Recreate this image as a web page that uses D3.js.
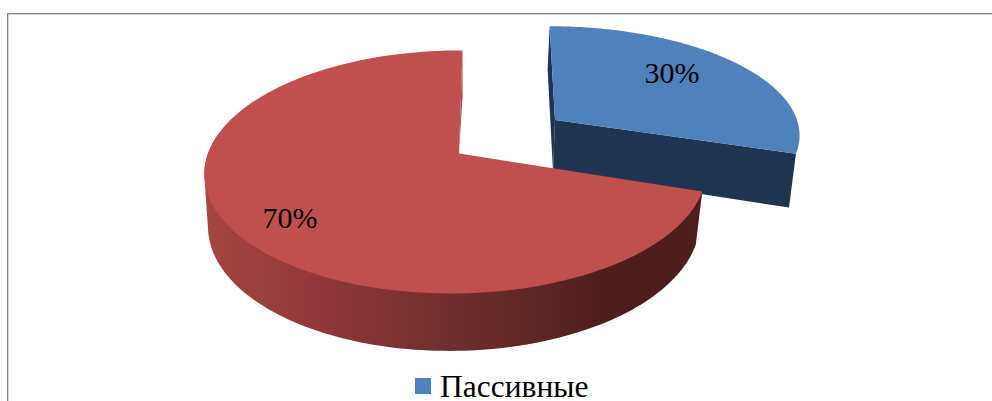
<!DOCTYPE html>
<html><head><meta charset="utf-8">
<script src="https://cdnjs.cloudflare.com/ajax/libs/d3/7.8.5/d3.min.js"></script>
<style>html,body{margin:0;padding:0;background:#fff;overflow:hidden}svg{display:block}text{font-family:"Liberation Serif",serif;fill:#000}</style>
</head><body><svg id="c" width="992" height="401"></svg>
<script>
const categories = ["Пассивные", "Активные"];
const values = [30, 70];
const percentLabels = ["30%", "70%"];
const legendEntries = ["Пассивные"];
const colors = {top:["#4f81bd","#c0504d"], face:["#1f3450","#a24744"]};

// projection parameters of the tilted pie (layout only)
const views = [
 {top:{x:555,y:120,A:242,B:105,k:.12,m:0,sh:6}, bot:{x:553,y:171,A:237,B:114,k:.12,m:0,sh:6}},
 {top:{x:459,y:153.5,A:248,B:118.7,k:.152,m:-.012,sh:-4}, bot:{x:459,y:205,A:243,B:124,k:.15,m:-.018,sh:-4}}
];
const labelPos = [[672,73],[290,218]];

const svg = d3.select("#c");
const defs = svg.append("defs");
const grad = defs.append("linearGradient").attr("id","wall").attr("gradientUnits","userSpaceOnUse")
  .attr("x1",205).attr("x2",700).attr("y1",0).attr("y2",0);
[[0,"#a64542"],[.2,"#93393a"],[.5,"#6f2e2b"],[.85,"#4a1c1a"],[1,"#4f1f1d"]]
  .forEach(([o,c])=>grad.append("stop").attr("offset",o).attr("stop-color",c));

const proj = (p,a)=>{
  const u=Math.sin(a), v=-Math.cos(a), w=1-p.k*v-p.m*u;
  return [p.x+(p.A*u+p.sh*v)/w, p.y+p.B*v/w];
};
const apex = p=>[p.x,p.y];
const pie = d3.pie().sort(null).value(d=>d).startAngle(0).endAngle(2*Math.PI)(values);
const samples = (s,e)=>d3.range(0,121).map(i=>s+(e-s)*i/120);
const line = d3.line();
const arcPts = (p,s,e)=>samples(s,e).map(a=>proj(p,a));

// border
svg.append("line").attr("x1",7).attr("x2",992).attr("y1",14.5).attr("y2",14.5).attr("stroke","#d4d4d4");
svg.append("line").attr("x1",7).attr("x2",992).attr("y1",13.5).attr("y2",13.5).attr("stroke","#858585");
svg.append("line").attr("x1",8.5).attr("x2",8.5).attr("y1",14).attr("y2",401).attr("stroke","#d4d4d4");
svg.append("line").attr("x1",7.5).attr("x2",7.5).attr("y1",13).attr("y2",401).attr("stroke","#858585");

// blue slice
{
 const d=pie[0], v=views[0];
 svg.append("path").attr("fill",colors.face[0]).attr("d",line([proj(v.top,d.startAngle),proj(v.bot,d.startAngle),apex(v.bot),apex(v.top)])+"Z");
 svg.append("path").attr("fill",colors.face[0]).attr("d",line([apex(v.top),proj(v.top,d.endAngle),proj(v.bot,d.endAngle),apex(v.bot)])+"Z");
 svg.append("path").attr("fill",colors.top[0]).attr("d",line([apex(v.top),...arcPts(v.top,d.startAngle,d.endAngle)])+"Z");
}
// red slice: the wall is the hull of the visible part of both rims
{
 const d=pie[1], v=views[1];
 const visibleEnd = d.startAngle+(d.endAngle-d.startAngle)*0.68;
 const hull = d3.polygonHull([...arcPts(v.top,d.startAngle,visibleEnd),...arcPts(v.bot,d.startAngle,visibleEnd)]);
 svg.append("path").attr("fill","url(#wall)").attr("d",line(hull)+"Z");
 svg.append("path").attr("fill",colors.face[1]).attr("d",line([proj(v.top,d.endAngle),proj(v.bot,d.endAngle),apex(v.top)])+"Z");
 svg.append("path").attr("fill",colors.top[1]).attr("d",line([apex(v.top),...arcPts(v.top,d.startAngle,d.endAngle)])+"Z");
}
// labels
svg.selectAll("text.lab").data(percentLabels).join("text").attr("class","lab")
  .attr("x",(d,i)=>labelPos[i][0]).attr("y",(d,i)=>labelPos[i][1]+10)
  .attr("text-anchor","middle").attr("font-size",30).text(d=>d);
// legend
svg.append("rect").attr("x",415).attr("y",378).attr("width",16).attr("height",16).attr("fill",colors.top[0]);
svg.append("text").attr("x",440).attr("y",397).attr("font-size",31.5).text(legendEntries[0]);
</script></body></html>
